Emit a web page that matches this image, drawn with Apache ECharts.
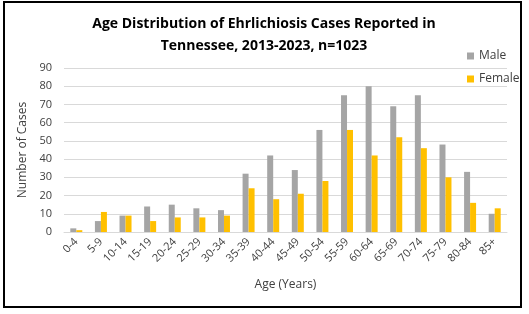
<!DOCTYPE html>
<html><head><meta charset="utf-8">
<script src="https://cdn.jsdelivr.net/npm/echarts@6/dist/echarts.min.js"></script>
<style>html,body{margin:0;padding:0;background:#fff}#c{width:529px;height:314px}
#frame{position:absolute;left:3px;top:1px;width:515px;height:303px;border:2px solid #000;pointer-events:none}</style>
</head><body><div id="c"></div><div id="frame"></div>
<script>
const categories = ["0-4","5-9","10-14","15-19","20-24","25-29","30-34","35-39","40-44","45-49","50-54","55-59","60-64","65-69","70-74","75-79","80-84","85+"];
const male = [2,6,9,14,15,13,12,32,42,34,56,75,80,69,75,48,33,10];
const female = [1,11,9,6,8,8,9,24,18,21,28,56,42,52,46,30,16,13];
const yTicks = {min:0, max:90, interval:10};
const titleText = "Age Distribution of Ehrlichiosis Cases Reported in\nTennessee, 2013-2023, n=1023";
const font = "'Open Sans', sans-serif";
const chart = echarts.init(document.getElementById('c'), null, {renderer:'canvas'});
chart.setOption({
  animation:false,
  textStyle:{fontFamily:font},
  title:{text:titleText, left:259, top:8, textAlign:'center',
    textStyle:{fontFamily:font, fontSize:14, fontWeight:'bold', color:'#000', lineHeight:22}},
  legend:{orient:'vertical', left:462, top:45, itemWidth:7, itemHeight:7, itemGap:11,
    icon:'rect', textStyle:{fontFamily:font, fontSize:12, color:'#404040'},
    data:['Male','Female']},
  grid:{left:64, right:22, top:68, bottom:82, containLabel:false},
  xAxis:{type:'category', data:categories, name:'Age (Years)', nameLocation:'middle', nameGap:47,
    nameTextStyle:{fontFamily:font, fontSize:12, color:'#404040'},
    axisTick:{show:false}, axisLine:{lineStyle:{color:'#d9d9d9'}},
    axisLabel:{rotate:45, interval:0, fontSize:11, color:'#404040', margin:8}},
  yAxis:{type:'value', min:yTicks.min, max:yTicks.max, interval:yTicks.interval,
    name:'Number of Cases', nameLocation:'middle', nameGap:34,
    nameTextStyle:{fontFamily:font, fontSize:12, color:'#404040'},
    axisLabel:{fontSize:11, color:'#404040', margin:12},
    splitLine:{lineStyle:{color:'#d9d9d9'}}},
  series:[
    {name:'Male', type:'bar', data:male, barWidth:6, barGap:'0%', itemStyle:{color:'#a5a5a5'}},
    {name:'Female', type:'bar', data:female, barWidth:6, itemStyle:{color:'#ffc000'}}
  ]
});
</script></body></html>
